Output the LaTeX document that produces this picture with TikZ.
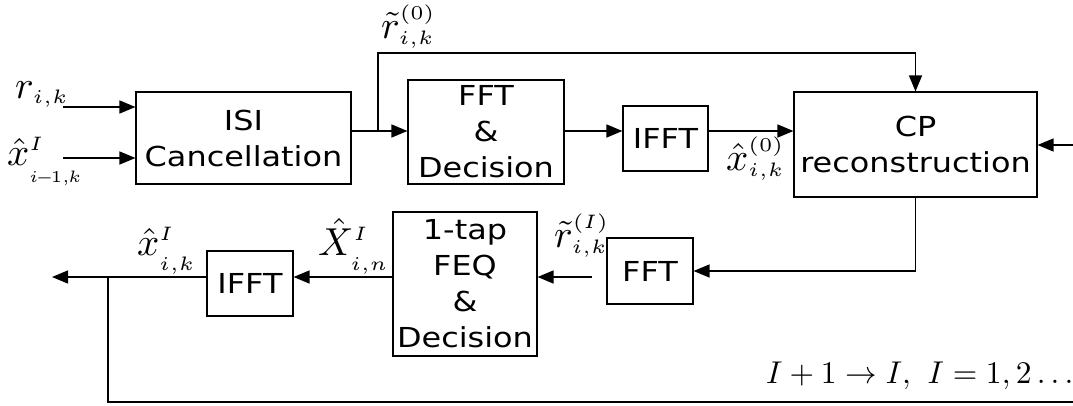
\RequirePackage{fix-cm}
\documentclass[tikz,border=0pt]{standalone}
\usepackage{fontspec}
\setmainfont[FakeStretch=1.16]{DejaVu Sans}
\usetikzlibrary{arrows.meta}
\newcommand{\mlab}[1]{\scalebox{3.9}{$#1$}}
\newcommand{\sss}{\scriptscriptstyle}
\tikzset{
 blk/.style={draw, line width=1.1pt, align=center, inner sep=0pt, font=\fontsize{27.5}{36}\selectfont},
 sig/.style={line width=1.4pt, -{Triangle[length=16pt,width=13pt]}},
 wire/.style={line width=1.4pt},
 lab/.style={inner sep=0pt, anchor=base west},
}
\begin{document}
\begin{tikzpicture}[x=1pt,y=-1pt]
\useasboundingbox (0,0) rectangle (1073,405);
% blocks
\node[blk, minimum width=215pt, minimum height=92pt] (isi) at (243.5,138) {ISI\\Cancellation};
\node[blk, minimum width=156pt, minimum height=104pt] (fft1) at (486,132) {FFT\\\&\\Decision};
\node[blk, minimum width=85pt, minimum height=65pt] (ifft1) at (665.5,138.5) {IFFT};
\node[blk, minimum width=243pt, minimum height=105pt] (cp) at (915.5,144.5) {CP\\reconstruction};
\node[blk, minimum width=86pt, minimum height=66pt] (fft2) at (650,271) {FFT};
\node[blk, minimum width=144pt, minimum height=144pt] (feq) at (465,284) {1-tap\\FEQ\\\&\\Decision};
\node[blk, minimum width=86pt, minimum height=65pt] (ifft2) at (250,283.5) {IFFT};
% labels
\node[lab] (lr) at (15,98) {\mlab{r_{\sss i,k}}};
\node[lab] (lx1) at (7,165) {\mlab{\hat{x}^{\sss I}_{\raisebox{-1.9pt}{\scalebox{0.85}{$\sss i\mkern-2mu-\mkern-2mu1,\mkern-1mu k$}}}}};
\node[lab] (lr0) at (381,38) {\mlab{\tilde{r}^{\sss (0)}_{\sss i,k}}};
\node[lab] (lx0) at (726,170) {\mlab{\hat{x}^{\sss (0)}_{\sss i,k}}};
\node[lab] (lrI) at (554,247) {\mlab{\tilde{r}^{\sss (I)}_{\sss i,k}}};
\node[lab] (lX) at (318,255) {\mlab{\hat{X}^{\sss I}_{\raisebox{-1.4pt}{$\sss i,n$}}}};
\node[lab] (lx2) at (137,255) {\mlab{\hat{x}^{\sss I}_{\raisebox{-1.4pt}{$\sss i,k$}}}};
\node[lab] (iter) at (766,383) {\scalebox{3.15}{$I+1\rightarrow I,\ I=1,2\ldots$}};
% connectors
\coordinate (in1) at (63,107);
\coordinate (in2) at (63,158);
\draw[sig] (in1) -- (isi.west |- in1);
\draw[sig] (in2) -- (isi.west |- in2);
\coordinate (br) at (378,131);
\coordinate (top) at (915,53);
\draw[sig] (isi.east |- br) -- (fft1.west |- br);
\draw[sig] (br) -- (br |- top) -| (cp.north);
\draw[sig] (fft1.east |- br) -- (ifft1.west |- br);
\draw[sig] (ifft1.east |- br) -- (cp.west |- br);
\coordinate (rin) at (1073,145);
\draw[sig] (rin) -- (cp.east |- rin);
\draw[sig] (cp.south) |- (fft2.east);
\coordinate (low) at (0,277);
\draw[sig, shorten <=14pt] (fft2.west |- low) -- (feq.east |- low);
\draw[sig] (feq.west |- low) -- (ifft2.east |- low);
\coordinate (out) at (52,277);
\draw[sig] (ifft2.west |- low) -- (out);
\coordinate (fb) at (108,277);
\coordinate (fbe) at (1073,402);
\draw[wire] (fb) |- (fbe);
\end{tikzpicture}
\end{document}
